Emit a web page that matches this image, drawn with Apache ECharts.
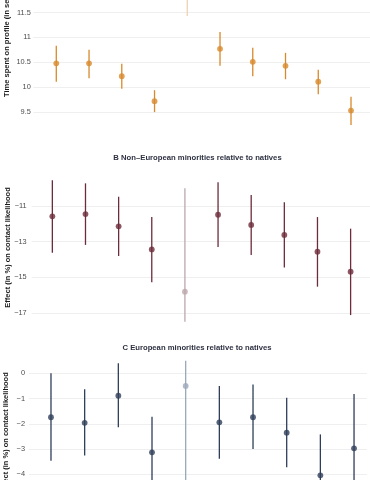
<!DOCTYPE html>
<html>
<head>
<meta charset="utf-8">
<script src="https://cdn.jsdelivr.net/npm/echarts@6/dist/echarts.min.js"></script>
<style>
html,body{margin:0;padding:0;background:#fff;}
#chart{width:370px;height:480px;}
</style>
</head>
<body>
<div id="chart"></div>
<script>
// ---- data ----
const positions = [1, 2, 3, 4, 5, 6, 7, 8, 9, 10];
const highlightIndex = 4;

const timeEst  = [10.48, 10.48, 10.22, 9.72, 11.90, 10.77, 10.51, 10.43, 10.11, 9.53];
const timeLow  = [10.11, 10.18, 9.97, 9.50, 11.43, 10.43, 10.22, 10.16, 9.86, 9.24];
const timeHigh = [10.83, 10.75, 10.47, 9.94, 12.40, 11.11, 10.79, 10.69, 10.35, 9.81];
const timeTicks = [9.5, 10, 10.5, 11, 11.5];

const nonEuEst  = [-11.58, -11.45, -12.14, -13.43, -15.80, -11.49, -12.06, -12.62, -13.56, -14.68];
const nonEuLow  = [-13.62, -13.18, -13.80, -15.27, -17.48, -13.30, -13.75, -14.44, -15.52, -17.11];
const nonEuHigh = [-9.56, -9.73, -10.48, -11.62, -10.01, -9.67, -10.38, -10.79, -11.62, -12.27];
const nonEuTicks = [-11, -13, -15, -17];

const euEst  = [-1.74, -1.96, -0.89, -3.13, -0.50, -1.94, -1.74, -2.35, -4.04, -2.97];
const euLow  = [-3.46, -3.26, -2.14, -4.60, -5.50, -3.38, -3.00, -3.72, -5.60, -5.10];
const euHigh = [0.00, -0.63, 0.40, -1.72, 0.50, -0.50, -0.44, -0.97, -2.42, -0.82];
const euTicks = [0, -1, -2, -3, -4];

const titleB = 'B Non\u2013European minorities relative to natives';
const titleC = 'C European minorities relative to natives';
const yTitleA = 'Time spent on profile (in seconds)';
const yTitleBC = 'Effect (in %) on contact likelihood';

// ---- layout ----
const FONT = '"Liberation Sans", Arial, Helvetica, sans-serif';
const panels = [
  {est: timeEst, low: timeLow, high: timeHigh, ticks: timeTicks,
   color: '#d8892c', light: '#efd3b2', labelMargin: 2.5,
   grid: {left: 33.3, top: 0, width: 342.7, height: 137.0},
   xMin: 0.298, xMax: 10.58, yMin: 9, yMax: 11.751, yInt: 0.5},
  {est: nonEuEst, low: nonEuLow, high: nonEuHigh, ticks: nonEuTicks,
   color: '#6d2c3b', light: '#bba8ad', labelMargin: 5,
   grid: {left: 31.7, top: 170.3, width: 344.3, height: 160.65},
   xMin: 0.377, xMax: 10.585, yMin: -18, yMax: -9, yInt: 1},
  {est: euEst, low: euLow, high: euHigh, ticks: euTicks,
   color: '#2f3e5a', light: '#9ca7b9', labelMargin: 4,
   grid: {left: 29, top: 348.05, width: 338, height: 131.3},
   xMin: 0.347, xMax: 10.385, yMin: -4.2, yMax: 1, yInt: 0.2}
];

const grids = [], xAxes = [], yAxes = [], series = [];
panels.forEach((p, k) => {
  grids.push(Object.assign({containLabel: false}, p.grid));
  xAxes.push({type: 'value', gridIndex: k, min: p.xMin, max: p.xMax, show: false});
  yAxes.push({
    type: 'value', gridIndex: k, min: p.yMin, max: p.yMax, interval: p.yInt,
    axisLine: {show: false}, axisTick: {show: false}, splitLine: {show: false},
    axisLabel: {
      margin: p.labelMargin, color: '#4d4d4d', fontSize: 7.4, fontFamily: FONT,
      showMinLabel: true, showMaxLabel: true,
      formatter: v => {
        const hit = p.ticks.find(t => Math.abs(t - v) < 1e-6);
        if (hit === undefined) return '';
        return String(hit).replace('-', '\u2212');
      }
    }
  });
  // gridlines
  series.push({
    type: 'line', xAxisIndex: k, yAxisIndex: k, data: [], z: 1, silent: true,
    markLine: {
      z: 1, silent: true, symbol: ['none', 'none'], animation: false,
      label: {show: false},
      lineStyle: {color: '#ebebeb', width: 0.8, type: 'solid'},
      emphasis: {disabled: true},
      data: p.ticks.map(t => ({yAxis: t}))
    }
  });
  // error bars
  series.push({
    type: 'custom', xAxisIndex: k, yAxisIndex: k, z: 5, clip: false,
    data: positions.map((x, i) => [x, p.low[i], p.high[i]]),
    renderItem: (params, api) => {
      const a = api.coord([api.value(0), api.value(1)]);
      const b = api.coord([api.value(0), api.value(2)]);
      return {
        type: 'line',
        shape: {x1: a[0], y1: a[1], x2: b[0], y2: b[1]},
        style: {stroke: params.dataIndex === highlightIndex ? p.light : p.color, lineWidth: 1.3}
      };
    }
  });
  // point estimates
  series.push({
    type: 'scatter', xAxisIndex: k, yAxisIndex: k, z: 6, clip: false,
    symbol: 'circle', symbolSize: 5.8,
    data: positions.map((x, i) => [x, p.est[i]]),
    itemStyle: {color: params => params.dataIndex === highlightIndex ? p.light : p.color}
  });
});

const chart = echarts.init(document.getElementById('chart'), null, {renderer: 'canvas'});
chart.setOption({
  animation: false,
  backgroundColor: '#ffffff',
  grid: grids, xAxis: xAxes, yAxis: yAxes, series: series,
  graphic: [
    {type: 'text', x: 197.5, y: 157.7, style: {text: titleB, font: 'bold 7.7px ' + FONT, fill: '#2e3142', align: 'center', verticalAlign: 'middle'}},
    {type: 'text', x: 197, y: 348.3, style: {text: titleC, font: 'bold 7.7px ' + FONT, fill: '#2e3142', align: 'center', verticalAlign: 'middle'}},
    {type: 'text', x: 7, y: 36, rotation: Math.PI / 2, style: {text: yTitleA, font: 'bold 7.5px ' + FONT, fill: '#1a1a1a', align: 'center', verticalAlign: 'middle'}},
    {type: 'text', x: 7.5, y: 247.5, rotation: Math.PI / 2, style: {text: yTitleBC, font: 'bold 7.5px ' + FONT, fill: '#1a1a1a', align: 'center', verticalAlign: 'middle'}},
    {type: 'text', x: 5.5, y: 432.5, rotation: Math.PI / 2, style: {text: yTitleBC, font: 'bold 7.5px ' + FONT, fill: '#1a1a1a', align: 'center', verticalAlign: 'middle'}}
  ]
});
</script>
</body>
</html>
